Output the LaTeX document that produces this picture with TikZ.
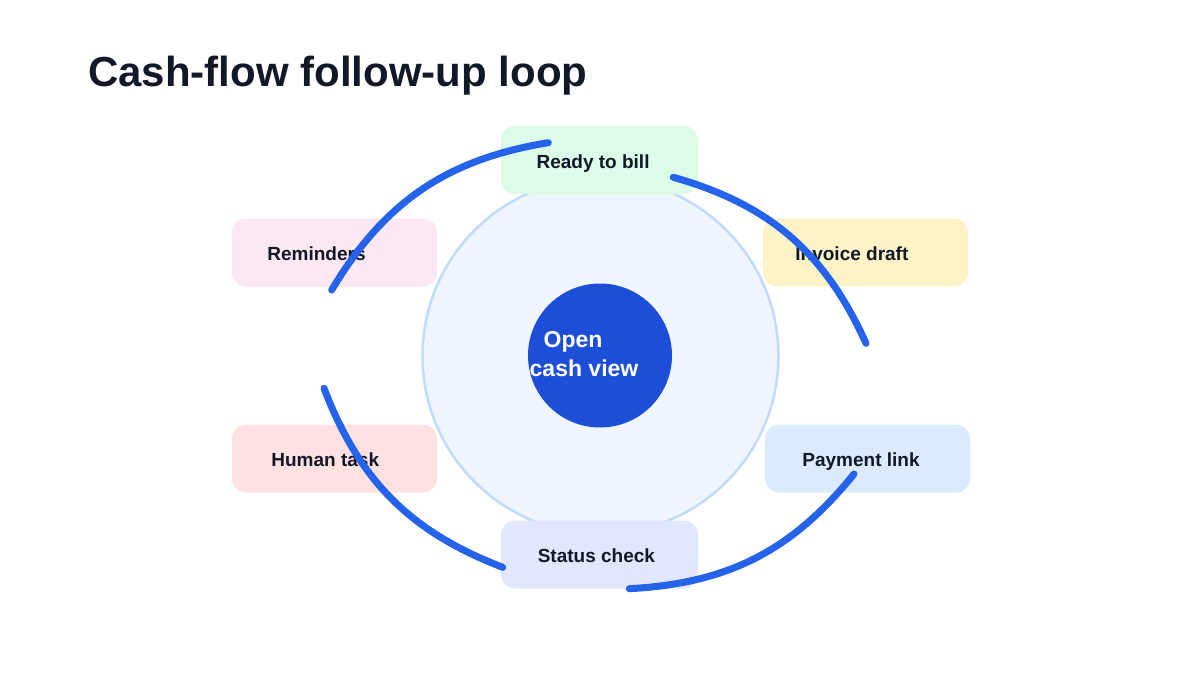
\documentclass[tikz,border=0pt]{standalone}
\usepackage{fontspec}
\setmainfont{Liberation Sans}
\definecolor{ink}{HTML}{111827}
\definecolor{arcblue}{HTML}{2563EB}
\definecolor{hubblue}{HTML}{1D4ED8}
\definecolor{ringfill}{HTML}{EFF6FF}
\definecolor{ringline}{HTML}{BFDBFE}
\definecolor{cgreen}{HTML}{DCFCE7}
\definecolor{cyellow}{HTML}{FEF3C7}
\definecolor{cblue}{HTML}{DBEAFE}
\definecolor{cindigo}{HTML}{E0E7FF}
\definecolor{cred}{HTML}{FEE2E2}
\definecolor{cpink}{HTML}{FCE7F3}
\begin{document}
\begin{tikzpicture}[x=1pt,y=-1pt,
  stepbox/.style={rectangle, rounded corners=14pt, minimum height=68pt, inner sep=0pt, draw=none},
  boxlabel/.style={anchor=base west, inner sep=0pt, text=ink, font=\fontsize{19}{23}\selectfont\bfseries},
  hublabel/.style={anchor=base west, inner sep=0pt, text=white, font=\fontsize{23}{29}\selectfont\bfseries},
  flowarc/.style={draw=arcblue, line width=7pt, line cap=round}]
\useasboundingbox (0,0) rectangle (1200,675);
% title
\node[anchor=base west, inner sep=0pt, text=ink, font=\fontsize{42}{50}\selectfont\bfseries] (title) at (88,86.5) {Cash-flow follow-up loop};
% ring and hub
\node[circle, fill=ringfill, draw=ringline, line width=2.5pt, minimum size=356pt, inner sep=0pt] (ring) at (600.5,356) {};
\node[circle, fill=hubblue, minimum size=144pt, inner sep=0pt] (hub) at (600,355.5) {};
% boxes
\node[stepbox, fill=cgreen, minimum width=197pt] (ready) at (599.5,160) {};
\node[stepbox, fill=cyellow, minimum width=205pt] (invoice) at (865.5,252.5) {};
\node[stepbox, fill=cblue, minimum width=205pt] (payment) at (867.5,458.5) {};
\node[stepbox, fill=cindigo, minimum width=197pt] (status) at (599.5,554.5) {};
\node[stepbox, fill=cred, minimum width=205pt] (human) at (334.5,458.5) {};
\node[stepbox, fill=cpink, minimum width=205pt] (reminders) at (334.5,252.5) {};
% labels
\node[boxlabel] (readyT) at (536.4,168) {Ready to bill};
\node[boxlabel] (invoiceT) at (795.2,260.3) {Invoice draft};
\node[boxlabel] (paymentT) at (802.2,466.3) {Payment link};
\node[boxlabel] (statusT) at (537.6,562.5) {Status check};
\node[boxlabel] (humanT) at (271.2,466.3) {Human task};
\node[boxlabel] (remindersT) at (267.2,260.3) {Reminders};
\node[hublabel] (hubT1) at (543.5,347) {Open};
\node[hublabel] (hubT2) at (529.5,376) {cash view};
% arc end points
\coordinate (remEnd) at (331.7,290);
\coordinate (readyIn) at (548.3,142.7);
\coordinate (readyOut) at (673.3,177.3);
\coordinate (invoiceIn) at (866,343.3);
\coordinate (paymentOut) at (854,474);
\coordinate (statusIn) at (629.3,588.7);
\coordinate (statusOut) at (502.7,567.3);
\coordinate (humanIn) at (324,388.3);
% arcs
\draw[flowarc] (remEnd) to[bend left=25] (readyIn);
\draw[flowarc] (readyOut) to[bend left=25] (invoiceIn);
\draw[flowarc] (paymentOut) to[bend left=24] (statusIn);
\draw[flowarc] (statusOut) to[bend left=24] (humanIn);
\end{tikzpicture}
\end{document}
